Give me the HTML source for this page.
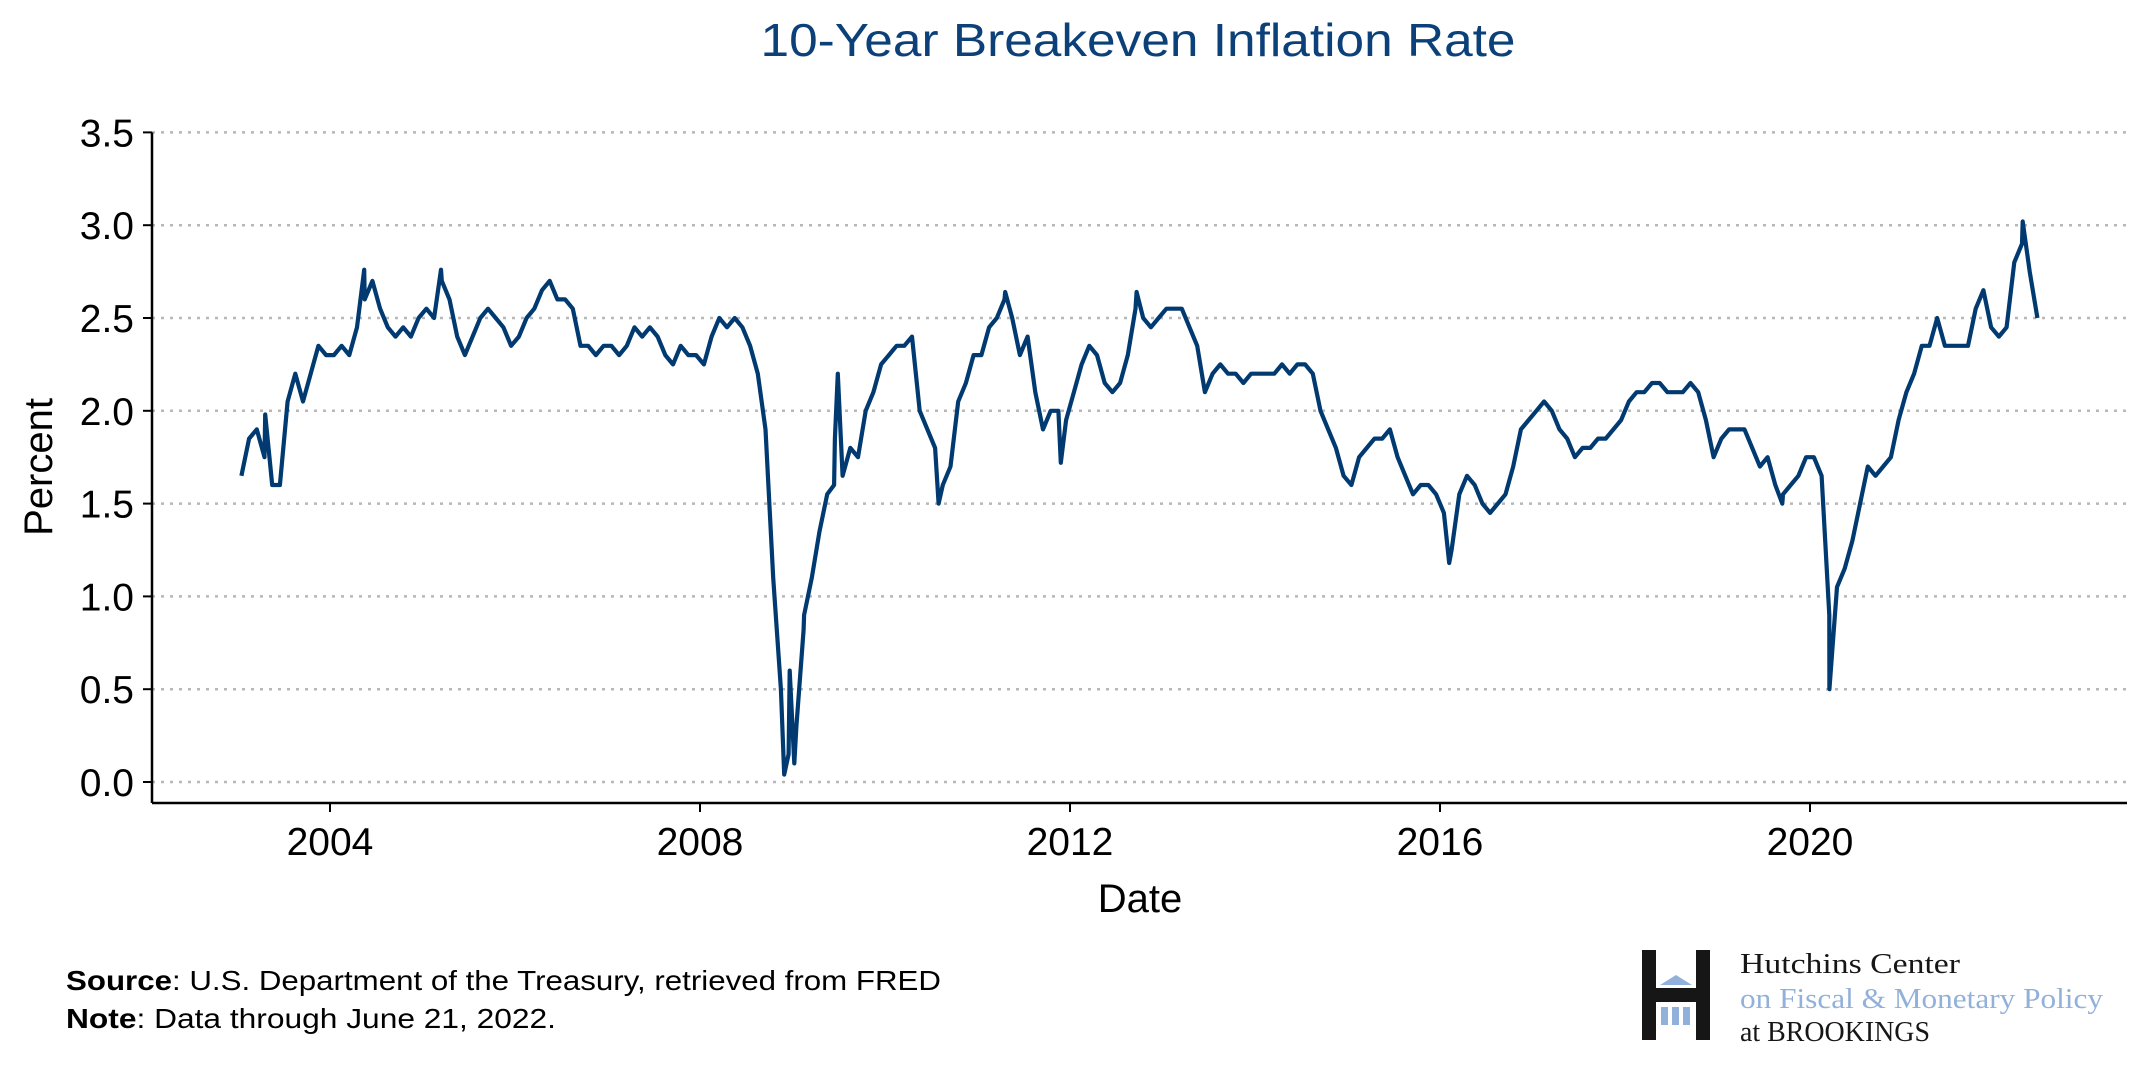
<!DOCTYPE html>
<html><head><meta charset="utf-8"><style>
html,body{margin:0;padding:0;background:#fff;}
svg{display:block;font-family:"Liberation Sans",sans-serif;}
</style></head><body>
<svg id="chart" width="2145" height="1066" viewBox="0 0 2145 1066">
<text x="1138" y="56" text-anchor="middle" font-size="46" fill="#0b4079" textLength="755" lengthAdjust="spacingAndGlyphs">10-Year Breakeven Inflation Rate</text>
<g id="grid"></g>
<g id="yaxis"></g>
<g id="xaxis"></g>
<path id="line" fill="none" stroke="#003a70" stroke-width="4.2" stroke-linejoin="round"/>
<text transform="translate(52,467) rotate(-90)" text-anchor="middle" font-size="40" fill="#000">Percent</text>
<text x="1140" y="912" text-anchor="middle" font-size="40" fill="#000">Date</text>
<text x="66" y="990" font-size="28" fill="#000" textLength="875" lengthAdjust="spacingAndGlyphs"><tspan font-weight="bold">Source</tspan>: U.S. Department of the Treasury, retrieved from FRED</text>
<text x="66" y="1028" font-size="28" fill="#000" textLength="490" lengthAdjust="spacingAndGlyphs"><tspan font-weight="bold">Note</tspan>: Data through June 21, 2022.</text>
<g>
<rect x="1642" y="950" width="14" height="90" fill="#161616"/>
<rect x="1696" y="950" width="14" height="90" fill="#161616"/>
<rect x="1656" y="988" width="40" height="14" fill="#161616"/>
<polygon points="1660,985 1676,975 1692,985" fill="#92b1da"/>
<rect x="1661" y="1007" width="7" height="18" fill="#92b1da"/>
<rect x="1672" y="1007" width="7" height="18" fill="#92b1da"/>
<rect x="1683" y="1007" width="7" height="18" fill="#92b1da"/>
<text x="1740" y="973" font-family="'Liberation Serif',serif" font-size="29" fill="#161616" textLength="220" lengthAdjust="spacingAndGlyphs">Hutchins Center</text>
<text x="1740" y="1008" font-family="'Liberation Serif',serif" font-size="29" fill="#92b1da" textLength="363" lengthAdjust="spacingAndGlyphs">on Fiscal &amp; Monetary Policy</text>
<text x="1740" y="1041" font-family="'Liberation Serif',serif" font-size="29" fill="#161616" textLength="190" lengthAdjust="spacingAndGlyphs">at BROOKINGS</text>
</g>
</svg>
<script>
const yTicks = [0.0, 0.5, 1.0, 1.5, 2.0, 2.5, 3.0, 3.5];
const yTickLabels = ["0.0","0.5","1.0","1.5","2.0","2.5","3.0","3.5"];
const xTicks = [2004, 2008, 2012, 2016, 2020];
const xTickLabels = ["2004","2008","2012","2016","2020"];
const monthlyStart = 2003;
const monthlyValues = [
1.65,1.85,1.9,1.75,1.6,1.6,2.05,2.2,2.05,2.2,2.35,2.3,
2.3,2.35,2.3,2.45,2.6,2.7,2.55,2.45,2.4,2.45,2.4,2.5,
2.55,2.5,2.7,2.6,2.4,2.3,2.4,2.5,2.55,2.5,2.45,2.35,
2.4,2.5,2.55,2.65,2.7,2.6,2.6,2.55,2.35,2.35,2.3,2.35,
2.35,2.3,2.35,2.45,2.4,2.45,2.4,2.3,2.25,2.35,2.3,2.3,
2.25,2.4,2.5,2.45,2.5,2.45,2.35,2.2,1.9,1.1,0.5,0.15,
0.3,0.9,1.1,1.35,1.55,1.85,1.65,1.8,1.75,2.0,2.1,2.25,
2.3,2.35,2.35,2.4,2.0,1.9,1.8,1.6,1.7,2.05,2.15,2.3,
2.3,2.45,2.5,2.6,2.5,2.3,2.4,2.1,1.9,2.0,2.0,1.95,
2.1,2.25,2.35,2.3,2.15,2.1,2.15,2.3,2.55,2.5,2.45,2.5,
2.55,2.55,2.55,2.45,2.35,2.1,2.2,2.25,2.2,2.2,2.15,2.2,
2.2,2.2,2.2,2.25,2.2,2.25,2.25,2.2,2.0,1.9,1.8,1.65,
1.6,1.75,1.8,1.85,1.85,1.9,1.75,1.65,1.55,1.6,1.6,1.55,
1.45,1.25,1.55,1.65,1.6,1.5,1.45,1.5,1.55,1.7,1.9,1.95,
2.0,2.05,2.0,1.9,1.85,1.75,1.8,1.8,1.85,1.85,1.9,1.95,
2.05,2.1,2.1,2.15,2.15,2.1,2.1,2.1,2.15,2.1,1.95,1.75,
1.85,1.9,1.9,1.9,1.8,1.7,1.75,1.6,1.55,1.6,1.65,1.75,
1.75,1.65,0.9,1.05,1.15,1.3,1.5,1.7,1.65,1.7,1.75,1.95,
2.1,2.2,2.35,2.35,2.5,2.35,2.35,2.35,2.35,2.55,2.65,2.45,
2.4,2.45,2.8,2.9,2.75,2.5
];
const extraDates = [2003.3,2004.37,2005.2,2008.84,2008.91,2008.97,2009.02,2009.12,2009.45,2009.49,2010.58,2011.3,2011.9,2012.72,2016.1,2019.7,2020.21,2022.3];
const extraValues = [1.98,2.76,2.76,0.75,0.04,0.6,0.1,0.82,1.6,2.2,1.5,2.64,1.72,2.64,1.18,1.5,0.5,3.02];

const NS = "http://www.w3.org/2000/svg";
const plotL = 152, plotR = 2127, plotB = 803;
function xs(yr){ return 330 + (yr - 2004) * 92.5; }
function ys(v){ return 782 - v * 185.6; }
function mk(tag, attrs, parent){ const e = document.createElementNS(NS, tag); for (const k in attrs) e.setAttribute(k, attrs[k]); parent.appendChild(e); return e; }

const grid = document.getElementById('grid');
const yaxis = document.getElementById('yaxis');
const xaxis = document.getElementById('xaxis');
yTicks.forEach((t, i) => {
  const g = mk('line', {x1: plotL, x2: plotR, y1: ys(t), y2: ys(t), stroke: '#b8b8b8', 'stroke-width': 2.5, 'stroke-dasharray': '3 6'}, grid);
  
  
  const tk = mk('line', {x1: plotL - 9, x2: plotL, y1: ys(t), y2: ys(t), stroke: '#000', 'stroke-width': 2}, yaxis);
  
  
  const lb = mk('text', {x: 134, y: ys(t) + 14, 'text-anchor': 'end', 'font-size': 39, fill: '#000'}, yaxis);
  lb.textContent = yTickLabels[i];
  
  
});
const ysp = mk('line', {x1: plotL, x2: plotL, y1: ys(3.5), y2: plotB, stroke: '#000', 'stroke-width': 2.5}, yaxis);


const xsp = mk('line', {x1: plotL, x2: plotR, y1: plotB, y2: plotB, stroke: '#000', 'stroke-width': 2.5}, xaxis);


xTicks.forEach((t, i) => {
  const tk = mk('line', {x1: xs(t), x2: xs(t), y1: plotB, y2: plotB + 9, stroke: '#000', 'stroke-width': 2}, xaxis);
  
  
  const lb = mk('text', {x: xs(t), y: plotB + 52, 'text-anchor': 'middle', 'font-size': 39, fill: '#000'}, xaxis);
  lb.textContent = xTickLabels[i];
  
  
});

const pts = monthlyValues.map((v, i) => [monthlyStart + (i + 0.5) / 12, v]);
extraDates.forEach((d, i) => pts.push([d, extraValues[i]]));
pts.sort((a, b) => a[0] - b[0]);
let d = '';
pts.forEach((p, i) => { d += (i ? 'L' : 'M') + xs(p[0]).toFixed(1) + ',' + ys(p[1]).toFixed(1); });
document.getElementById('line').setAttribute('d', d);
</script>
</body></html>
